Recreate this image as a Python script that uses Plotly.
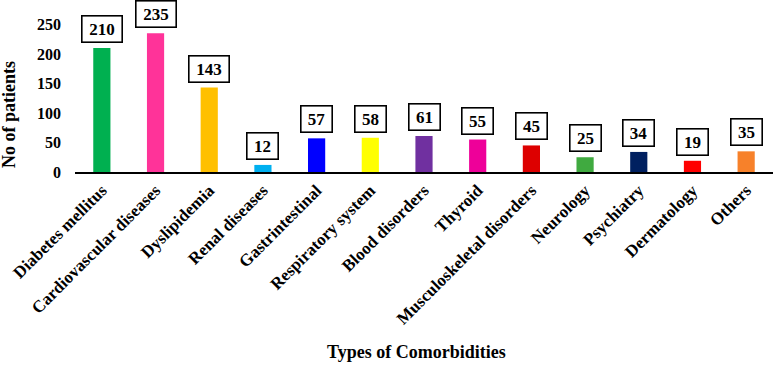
import plotly.graph_objects as go

categories = ["Diabetes mellitus", "Cardiovascular diseases", "Dyslipidemia", "Renal diseases",
              "Gastrintestinal", "Respiratory system", "Blood disorders", "Thyroid",
              "Musculoskeletal disorders", "Neurology", "Psychiatry", "Dermatology", "Others"]
values = [210, 235, 143, 12, 57, 58, 61, 55, 45, 25, 34, 19, 35]
colors = ["#00B050", "#FF3399", "#FFC000", "#00B0F0", "#0000FF", "#FFFF00", "#7030A0",
          "#EE0099", "#DD0000", "#40AA40", "#002060", "#FF0000", "#F7812A"]
y_ticks = [0, 50, 100, 150, 200, 250]

font_family = "Liberation Serif, Times New Roman, serif"

fig = go.Figure(go.Bar(x=categories, y=values, marker_color=colors, marker_line_width=0,
                       hoverinfo="skip"))

for c, v in zip(categories, values):
    fig.add_annotation(x=c, y=v, text="<b>%d</b>" % v, showarrow=False, yanchor="bottom",
                       yshift=5, bordercolor="black", borderwidth=1.6, borderpad=3,
                       width=9 * len(str(v)) + 6,
                       bgcolor="white", font=dict(family=font_family, size=17, color="black"))

fig.add_annotation(xref="paper", yref="paper", x=0, y=0.335, xshift=-66, textangle=-90,
                   xanchor="center", yanchor="middle", showarrow=False,
                   text="<b>No of patients</b>", font=dict(family=font_family, size=18, color="black"))
fig.add_annotation(xref="paper", yref="paper", x=0.489, y=0, yshift=-180,
                   xanchor="center", yanchor="middle", showarrow=False,
                   text="<b>Types of Comorbidities</b>", font=dict(family=font_family, size=18, color="black"))

fig.update_layout(
    width=775, height=365,
    margin=dict(l=75, r=2, t=2, b=193),
    plot_bgcolor="white", paper_bgcolor="white",
    bargap=0.68, showlegend=False,
    font=dict(family=font_family, color="black"),
    xaxis=dict(showline=True, linecolor="black", linewidth=1.5, tickangle=-45, ticks="",
               automargin=False,
               tickfont=dict(family=font_family, size=17, color="black", weight="bold")),
    yaxis=dict(range=[0, 288], tickvals=y_ticks, showgrid=False, zeroline=False, showline=False,
               ticks="", automargin=False, ticklabelstandoff=13,
               tickfont=dict(family=font_family, size=16, color="black", weight="bold")),
)

fig.write_html("out.html", config={"displayModeBar": False},
               post_script="document.body.style.margin='0';document.body.style.overflow='hidden';")
